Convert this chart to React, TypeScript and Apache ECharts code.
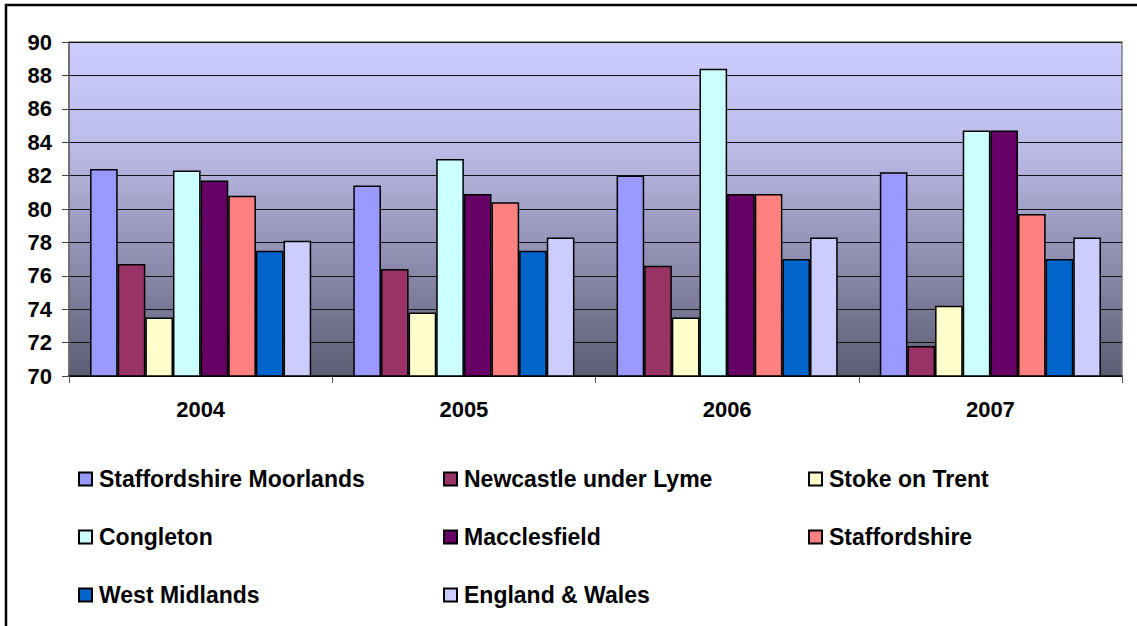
import React, { useEffect, useRef } from "react";
import * as echarts from "echarts";

const years = ["2004", "2005", "2006", "2007"];

const staffordshireMoorlands = [82.4, 81.4, 82.0, 82.2];
const newcastleUnderLyme = [76.7, 76.4, 76.6, 71.8];
const stokeOnTrent = [73.5, 73.8, 73.5, 74.2];
const congleton = [82.3, 83.0, 88.4, 84.7];
const macclesfield = [81.7, 80.9, 80.9, 84.7];
const staffordshire = [80.8, 80.4, 80.9, 79.7];
const westMidlands = [77.5, 77.5, 77.0, 77.0];
const englandWales = [78.1, 78.3, 78.3, 78.3];

const seriesDefs = [
  { name: "Staffordshire Moorlands", data: staffordshireMoorlands, color: "#9999FF" },
  { name: "Newcastle under Lyme", data: newcastleUnderLyme, color: "#993366" },
  { name: "Stoke on Trent", data: stokeOnTrent, color: "#FFFFCC" },
  { name: "Congleton", data: congleton, color: "#CCFFFF" },
  { name: "Macclesfield", data: macclesfield, color: "#660066" },
  { name: "Staffordshire", data: staffordshire, color: "#FF8080" },
  { name: "West Midlands", data: westMidlands, color: "#0066CC" },
  { name: "England & Wales", data: englandWales, color: "#CCCCFF" },
];

// legend slots: [left, row centre]
const legendSlots: [number, number][] = [
  [78, 479], [443, 479], [808, 479],
  [78, 537], [443, 537], [808, 537],
  [78, 595], [443, 595],
];

const FONT = "'Liberation Sans', Arial, sans-serif";
const LEGEND_FONT = 23;

export default function App() {
  const ref = useRef<HTMLDivElement>(null);

  useEffect(() => {
    if (!ref.current) return;
    const chart = echarts.init(ref.current, null, { renderer: "svg" });

    const legends = seriesDefs.map((s, i) => ({
      show: true,
      data: [s.name],
      left: legendSlots[i][0],
      top: legendSlots[i][1] - LEGEND_FONT / 2,
      icon: "rect",
      itemWidth: 13,
      itemHeight: 13,
      padding: 0,
      selectedMode: false,
      textStyle: {
        fontFamily: FONT,
        fontSize: LEGEND_FONT,
        fontWeight: "bold",
        color: "#000",
        padding: [0, 0, 0, 2],
      },
    }));

    chart.setOption({
      animation: false,
      backgroundColor: "#fff",
      textStyle: { fontFamily: FONT },
      graphic: [
        {
          type: "rect",
          shape: { x: 6, y: 5, width: 1140, height: 640 },
          style: { fill: "none", stroke: "#000", lineWidth: 2.5 },
          silent: true,
        },
      ],
      legend: legends,
      grid: {
        left: 69,
        right: 15,
        top: 42,
        bottom: 250,
        show: true,
        borderColor: "#808080",
        borderWidth: 1.5,
        backgroundColor: new echarts.graphic.LinearGradient(0, 0, 0, 1, [
          { offset: 0, color: "#CCCCFF" },
          { offset: 0.3, color: "#BDBDE9" },
          { offset: 0.65, color: "#8E8EB0" },
          { offset: 1, color: "#5C5C74" },
        ]),
      },
      xAxis: {
        type: "category",
        data: years,
        axisLine: { show: true, lineStyle: { color: "#000", width: 1.5 } },
        axisTick: { show: true, length: 7, lineStyle: { color: "#555" } },
        axisLabel: {
          fontFamily: FONT,
          fontSize: 22,
          fontWeight: "bold",
          color: "#000",
          margin: 22,
        },
      },
      yAxis: {
        type: "value",
        min: 70,
        max: 90,
        interval: 2,
        axisLine: { show: true, lineStyle: { color: "#666", width: 1.5 } },
        axisTick: { show: true, length: 7, lineStyle: { color: "#444" } },
        axisLabel: {
          fontFamily: FONT,
          fontSize: 22,
          fontWeight: "bold",
          color: "#000",
          margin: 17,
        },
        splitLine: { show: true, lineStyle: { color: "#111", width: 1 } },
      },
      series: seriesDefs.map((s) => ({
        name: s.name,
        type: "bar",
        data: s.data,
        barGap: "0%",
        barCategoryGap: "16%",
        itemStyle: { color: s.color, borderColor: "#000", borderWidth: 1.5 },
      })),
    });

    return () => chart.dispose();
  }, []);

  return (
    <div
      ref={ref}
      style={{ position: "absolute", left: 0, top: 0, width: 1137, height: 626 }}
    />
  );
}
